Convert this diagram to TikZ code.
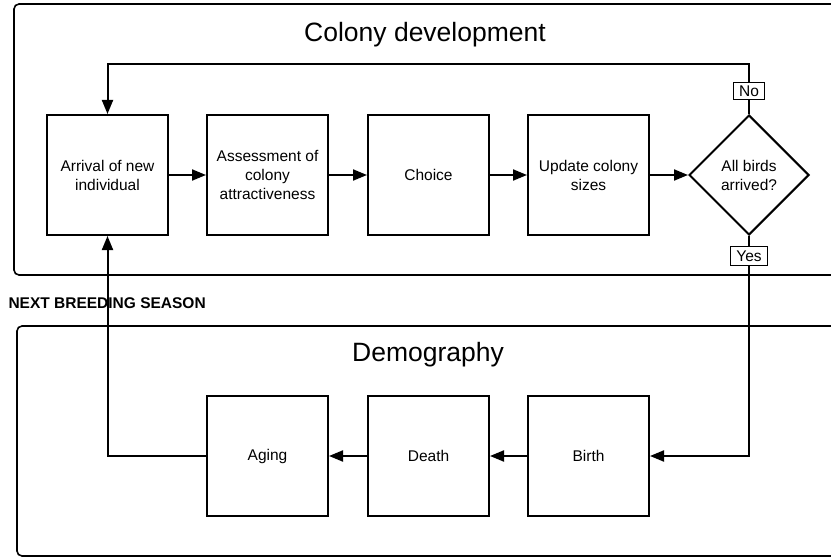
\documentclass[tikz,border=0pt]{standalone}
\usepackage{fontspec}
\setmainfont{Liberation Sans}
\usetikzlibrary{shapes.geometric,arrows.meta}
\begin{document}
\begin{tikzpicture}[x=1bp,y=-1bp,
  frame/.style={draw,line width=1.6bp,rounded corners=5bp},
  stepbox/.style={draw,line width=2bp,minimum width=121bp,minimum height=120bp,inner sep=0pt,
    align=center,font=\fontsize{15.5bp}{19bp}\selectfont},
  decision/.style={draw,shape=diamond,line width=2bp,minimum width=120bp,minimum height=120bp,inner sep=0pt,
    align=center,font=\fontsize{15.5bp}{19bp}\selectfont},
  lab/.style={draw,fill=white,line width=1bp,inner xsep=6bp,inner ysep=0pt,minimum height=17bp,
    font=\fontsize{15.5bp}{17bp}\selectfont},
  title/.style={font=\fontsize{26.5bp}{30bp}\selectfont},
  conn/.style={line width=2bp,-{Triangle[length=14bp,width=11bp]}},
]
\useasboundingbox (0,0) rectangle (831,558);
\clip (0,0) rectangle (831,558);
\fill[white] (0,0) rectangle (831,558);
% frames
\draw[frame] (14,4) rectangle (860,275);
\draw[frame] (17,326) rectangle (860,556);
\node[title] (t1) at (425,35) {Colony development};
\node[title] (t2) at (428,355) {Demography};
% top row
\node[stepbox] (b1) at (107.5,175) {Arrival of new\\individual};
\node[stepbox] (b2) at (267.5,175) {Assessment of\\colony\\attractiveness};
\node[stepbox] (b3) at (428.5,175) {Choice};
\node[stepbox] (b4) at (588.5,175) {Update colony\\sizes};
\node[decision] (dia) at (749,175) {All birds\\arrived?};
% bottom row
\node[stepbox] (aging) at (267.5,456) {Aging};
\node[stepbox] (death) at (428.5,456) {Death};
\node[stepbox] (birth) at (588.5,456) {Birth};
\coordinate (fb) at (749,64);
% connectors
\draw[conn] (b1) -- (b2);
\draw[conn] (b2) -- (b3);
\draw[conn] (b3) -- (b4);
\draw[conn] (b4) -- (dia);
\draw[conn] (dia.north) -- (fb) -| (b1.north);
\draw[conn] (dia.south) |- (birth.east);
\draw[conn] (birth) -- (death);
\draw[conn] (death) -- (aging);
\draw[conn] (aging.west) -| (b1.south);
\node[lab] (no) at (749,91) {No};
\node[lab,minimum height=19bp] (yes) at (749,256.5) {Yes};
\node[anchor=west,font=\fontsize{15.5bp}{18bp}\selectfont\bfseries] (nbs) at (5,303) {NEXT BREEDING SEASON};
\end{tikzpicture}
\end{document}
